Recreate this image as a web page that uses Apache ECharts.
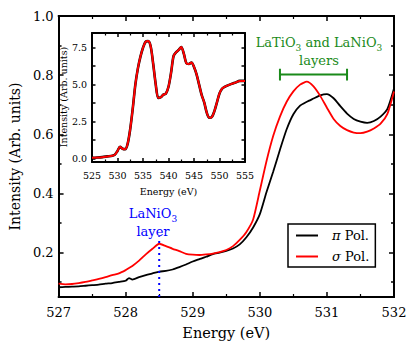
<!DOCTYPE html>
<html>
<head>
<meta charset="utf-8">
<script src="https://cdn.jsdelivr.net/npm/echarts@6/dist/echarts.min.js"></script>
<style>
    html, body { margin: 0; padding: 0; background: #fff; }
    #xas_chart { width: 415px; height: 345px; }
</style>
</head>
<body>
<div id="xas_chart"></div>
<script>

// Main panel: O K-edge pre-edge region
var energy = [527.0, 527.1, 527.2, 527.3, 527.4, 527.5, 527.6, 527.7, 527.8, 527.9,
    528.0, 528.05, 528.1, 528.2, 528.3, 528.4, 528.5, 528.6, 528.7, 528.8, 528.9,
    529.0, 529.1, 529.2, 529.3, 529.4, 529.5, 529.6, 529.7, 529.8, 529.9,
    530.0, 530.1, 530.2, 530.3, 530.4, 530.5, 530.6, 530.7, 530.8, 530.9,
    531.0, 531.1, 531.2, 531.3, 531.4, 531.5, 531.6, 531.7, 531.8, 531.9, 532.0];

var pi_pol = [0.083, 0.084, 0.085, 0.086, 0.088, 0.090, 0.092, 0.095, 0.097, 0.101,
    0.105, 0.114, 0.109, 0.117, 0.124, 0.130, 0.136, 0.138, 0.143, 0.151, 0.160,
    0.170, 0.178, 0.186, 0.195, 0.200, 0.206, 0.214, 0.228, 0.252, 0.285,
    0.330, 0.405, 0.474, 0.548, 0.617, 0.668, 0.697, 0.710, 0.721, 0.732,
    0.736, 0.722, 0.695, 0.670, 0.652, 0.643, 0.639, 0.645, 0.660, 0.685, 0.755];

var sigma_pol = [0.095, 0.093, 0.094, 0.097, 0.101, 0.106, 0.111, 0.117, 0.124, 0.130,
    0.141, 0.148, 0.155, 0.173, 0.194, 0.213, 0.230, 0.222, 0.213, 0.205, 0.196,
    0.193, 0.192, 0.194, 0.197, 0.202, 0.209, 0.222, 0.243, 0.270, 0.312,
    0.410, 0.510, 0.595, 0.660, 0.710, 0.745, 0.768, 0.778, 0.762, 0.730,
    0.690, 0.652, 0.628, 0.614, 0.606, 0.604, 0.609, 0.620, 0.636, 0.668, 0.745];

// Inset: full edge
var inset_energy = [525.0, 526.0, 527.0, 528.0, 529.0, 529.5, 530.0, 530.5, 531.0, 531.5,
    532.0, 532.5, 533.0, 533.5, 534.0, 534.5, 535.0, 535.5, 536.0, 536.5,
    537.0, 537.5, 538.0, 538.5, 539.0, 539.5, 540.0, 540.5, 541.0, 541.5,
    542.0, 542.5, 543.0, 543.5, 544.0, 544.5, 545.0, 545.5, 546.0, 546.5,
    547.0, 547.5, 548.0, 548.5, 549.0, 549.5, 550.0, 550.5, 551.0, 552.0,
    553.0, 554.0, 555.0];

var inset_pi = [0.03, 0.05, 0.08, 0.13, 0.18, 0.25, 0.50, 0.78, 0.65, 0.62,
    1.00, 2.00, 3.40, 5.00, 6.10, 6.90, 7.50, 7.90, 7.95, 7.60,
    6.40, 5.00, 4.10, 4.15, 4.32, 4.40, 4.85, 5.80, 6.95, 7.20,
    7.35, 7.55, 7.10, 6.45, 6.40, 6.50, 6.20, 5.70, 5.00, 4.30,
    3.80, 3.10, 2.75, 2.80, 3.20, 3.80, 4.40, 4.72, 4.85, 5.00,
    5.12, 5.25, 5.25];

var inset_sigma = [0.03, 0.05, 0.08, 0.13, 0.18, 0.25, 0.50, 0.78, 0.65, 0.62,
    1.00, 2.00, 3.40, 5.00, 6.10, 6.90, 7.50, 7.90, 7.95, 7.60,
    6.40, 5.00, 4.10, 4.15, 4.32, 4.40, 4.85, 5.80, 6.95, 7.20,
    7.35, 7.55, 7.10, 6.45, 6.40, 6.50, 6.20, 5.70, 5.00, 4.30,
    3.80, 3.10, 2.75, 2.80, 3.20, 3.80, 4.40, 4.72, 4.85, 5.00,
    5.12, 5.25, 5.25];

// Tick positions
var main_y_major = [0.2, 0.4, 0.6, 0.8, 1.0];
var main_y_minor = [0.1, 0.3, 0.5, 0.7, 0.9];
var inset_y_labels = [0, 2.5, 5, 7.5];
var inset_y_ticks = [0, 1.25, 2.5, 3.75, 5, 6.25, 7.5];

// Annotations
var layers_bar = [[530.3, 0.782], [530.3, 0.822], '-', [530.3, 0.802], [531.3, 0.802], '-', [531.3, 0.782], [531.3, 0.822]];
var lanio3_marker = [[528.5, 0.05], [528.5, 0.255]];


var pairs = function (xs, ys) {
    return xs.map(function (x, i) { return [x, ys[i]]; });
};

var FONT = 'DejaVu Serif';

var chart_element = document.getElementById('xas_chart');
var xas_chart = echarts.init(chart_element, null, { renderer: 'svg' });

// Axis helpers
var xAxisOf = function (grid, pos, min, max, interval, labels, opts) {
    return Object.assign({
        type: 'value',
        gridIndex: grid,
        position: pos,
        min: min,
        max: max,
        interval: interval,
        axisLine: { show: true, onZero: false, lineStyle: { color: '#000', width: 2 } },
        axisTick: { show: true, inside: true, length: grid === 0 ? 5 : 4, lineStyle: { color: '#000', width: 1.5 } },
        minorTick: { show: true, splitNumber: 2, length: grid === 0 ? 3 : 2.5, lineStyle: { color: '#000', width: 1.2 } },
        axisLabel: { show: labels, hideOverlap: false, color: '#000', fontFamily: FONT, fontSize: grid === 0 ? 13 : 9.5, margin: grid === 0 ? 9 : 8 },
        splitLine: { show: false }
    }, opts || {});
};

var yAxisOf = function (grid, pos, min, max, ticks, labelValues, len, opts) {
    return Object.assign({
        type: 'value',
        gridIndex: grid,
        position: pos,
        min: min,
        max: max,
        axisLine: { show: true, onZero: false, lineStyle: { color: '#000', width: 2 } },
        axisTick: { show: true, inside: true, length: len, customValues: ticks, lineStyle: { color: '#000', width: 1.5 } },
        axisLabel: {
            show: !!labelValues,
            hideOverlap: false,
            customValues: labelValues || [],
            color: '#000',
            fontFamily: FONT,
            fontSize: grid === 0 ? 13 : 9.5,
            margin: 5,
            formatter: function (v) { return Number(v).toFixed(1); }
        },
        splitLine: { show: false }
    }, opts || {});
};

// Annotation texts
var annotations = [
    {
        type: 'text',
        x: 63,
        y: 97,
        rotation: Math.PI / 2,
        style: {
            text: 'Intensity (Arb. units)',
            align: 'center',
            verticalAlign: 'middle',
            fontFamily: FONT,
            fontSize: 9.5,
            fill: '#000'
        },
        z: 10
    },
    {
        type: 'text',
        style: {
            x: 319, y: 31, align: 'center',
            text: '{n|LaTiO}{s|3}{n| and LaNiO}{s|3}\n{n|layers}',
            fill: '#1a8a1a',
            rich: {
                n: { fontFamily: FONT, fontSize: 13, lineHeight: 18, fill: '#1a8a1a', verticalAlign: 'bottom' },
                s: { fontFamily: FONT, fontSize: 9, lineHeight: 12, fill: '#1a8a1a', verticalAlign: 'bottom', padding: [0, 0, -3, 0] }
            }
        },
        z: 10
    },
    {
        type: 'text',
        style: {
            x: 153, y: 202, align: 'center',
            text: '{n|LaNiO}{s|3}\n{n|layer}',
            fill: '#0000ff',
            rich: {
                n: { fontFamily: FONT, fontSize: 13, lineHeight: 18, fill: '#0000ff', verticalAlign: 'bottom' },
                s: { fontFamily: FONT, fontSize: 9, lineHeight: 12, fill: '#0000ff', verticalAlign: 'bottom', padding: [0, 0, -3, 0] }
            }
        },
        z: 10
    }
];

xas_chart.setOption({
    animation: false,
    backgroundColor: '#fff',
    textStyle: { fontFamily: FONT },

    grid: [
        { left: 50, top: 16, width: 344, height: 287 },
        { left: 92, top: 33, width: 153, height: 129, show: true, backgroundColor: '#fff', borderWidth: 0, z: 5 }
    ],

    xAxis: [
        xAxisOf(0, 'bottom', 527, 532, 1, true, {
            name: 'Energy (eV)', nameLocation: 'middle', nameGap: 28,
            nameTextStyle: { color: '#000', fontFamily: FONT, fontSize: 14.5 }
        }),
        xAxisOf(0, 'top', 527, 532, 1, false),
        xAxisOf(1, 'bottom', 525, 555, 5, true, {
            name: 'Energy (eV)', nameLocation: 'middle', nameGap: 24,
            nameTextStyle: { color: '#000', fontFamily: FONT, fontSize: 9.5 }, z: 6
        }),
        xAxisOf(1, 'top', 525, 555, 5, false, { z: 6 })
    ],

    yAxis: [
        yAxisOf(0, 'left', 0.05, 1.0, main_y_major, main_y_major, 5, {
            name: 'Intensity (Arb. units)', nameLocation: 'middle', nameGap: 32,
            nameTextStyle: { color: '#000', fontFamily: FONT, fontSize: 14 }
        }),
        yAxisOf(0, 'left', 0.05, 1.0, main_y_minor, null, 3),
        yAxisOf(0, 'right', 0.05, 1.0, main_y_major, null, 5),
        yAxisOf(0, 'right', 0.05, 1.0, main_y_minor, null, 3),
        yAxisOf(1, 'left', -0.25, 8.5, inset_y_ticks, inset_y_labels, 3.5, { z: 6 }),
        yAxisOf(1, 'right', -0.25, 8.5, inset_y_ticks, null, 3.5, { z: 6 })
    ],

    // Legend
    legend: {
        data: ['pi', 'sigma'],
        orient: 'vertical',
        left: 288,
        top: 224,
        padding: [5, 6, 4, 8],
        itemGap: 8,
        itemWidth: 22,
        itemHeight: 2,
        icon: 'rect',
        backgroundColor: '#fff',
        borderColor: '#000',
        borderWidth: 1.5,
        borderRadius: 0,
        textStyle: {
            color: '#000',
            fontFamily: FONT,
            fontSize: 13,
            padding: [0, 0, 0, 9],
            rich: {
                g: { fontFamily: FONT, fontStyle: 'italic', fontSize: 13, color: '#000' }
            }
        },
        formatter: function (name) {
            return name === 'pi' ? '{g|π} Pol.' : '{g|σ} Pol.';
        }
    },

    graphic: annotations,

    // Add series
    series: [
        {
            name: 'pi',
            type: 'line',
            xAxisIndex: 0,
            yAxisIndex: 0,
            showSymbol: false,
            smooth: 0.2,
            color: '#000',
            lineStyle: { color: '#000', width: 1.8 },
            data: pairs(energy, pi_pol)
        },
        {
            name: 'sigma',
            type: 'line',
            xAxisIndex: 0,
            yAxisIndex: 0,
            showSymbol: false,
            smooth: 0.2,
            color: '#ff0000',
            lineStyle: { color: '#ff0000', width: 1.8 },
            data: pairs(energy, sigma_pol)
        },
        {
            name: 'layers_bar',
            type: 'line',
            xAxisIndex: 0,
            yAxisIndex: 0,
            showSymbol: false,
            connectNulls: false,
            lineStyle: { color: '#1a8a1a', width: 2 },
            data: layers_bar,
            z: 4
        },
        {
            name: 'lanio3_marker',
            type: 'line',
            xAxisIndex: 0,
            yAxisIndex: 0,
            showSymbol: false,
            lineStyle: { color: '#0000ff', width: 2, type: [2, 4] },
            data: lanio3_marker,
            z: 4
        },
        {
            name: 'inset_pi',
            type: 'line',
            xAxisIndex: 2,
            yAxisIndex: 4,
            showSymbol: false,
            smooth: 0.3,
            lineStyle: { color: '#000', width: 2.6 },
            data: pairs(inset_energy, inset_pi),
            z: 6
        },
        {
            name: 'inset_sigma',
            type: 'line',
            xAxisIndex: 2,
            yAxisIndex: 4,
            showSymbol: false,
            smooth: 0.3,
            lineStyle: { color: '#ff0000', width: 2 },
            data: pairs(inset_energy, inset_sigma),
            z: 7
        }
    ]
});

// Resize
window.addEventListener('resize', function () {
    xas_chart.resize();
});
</script>
</body>
</html>
